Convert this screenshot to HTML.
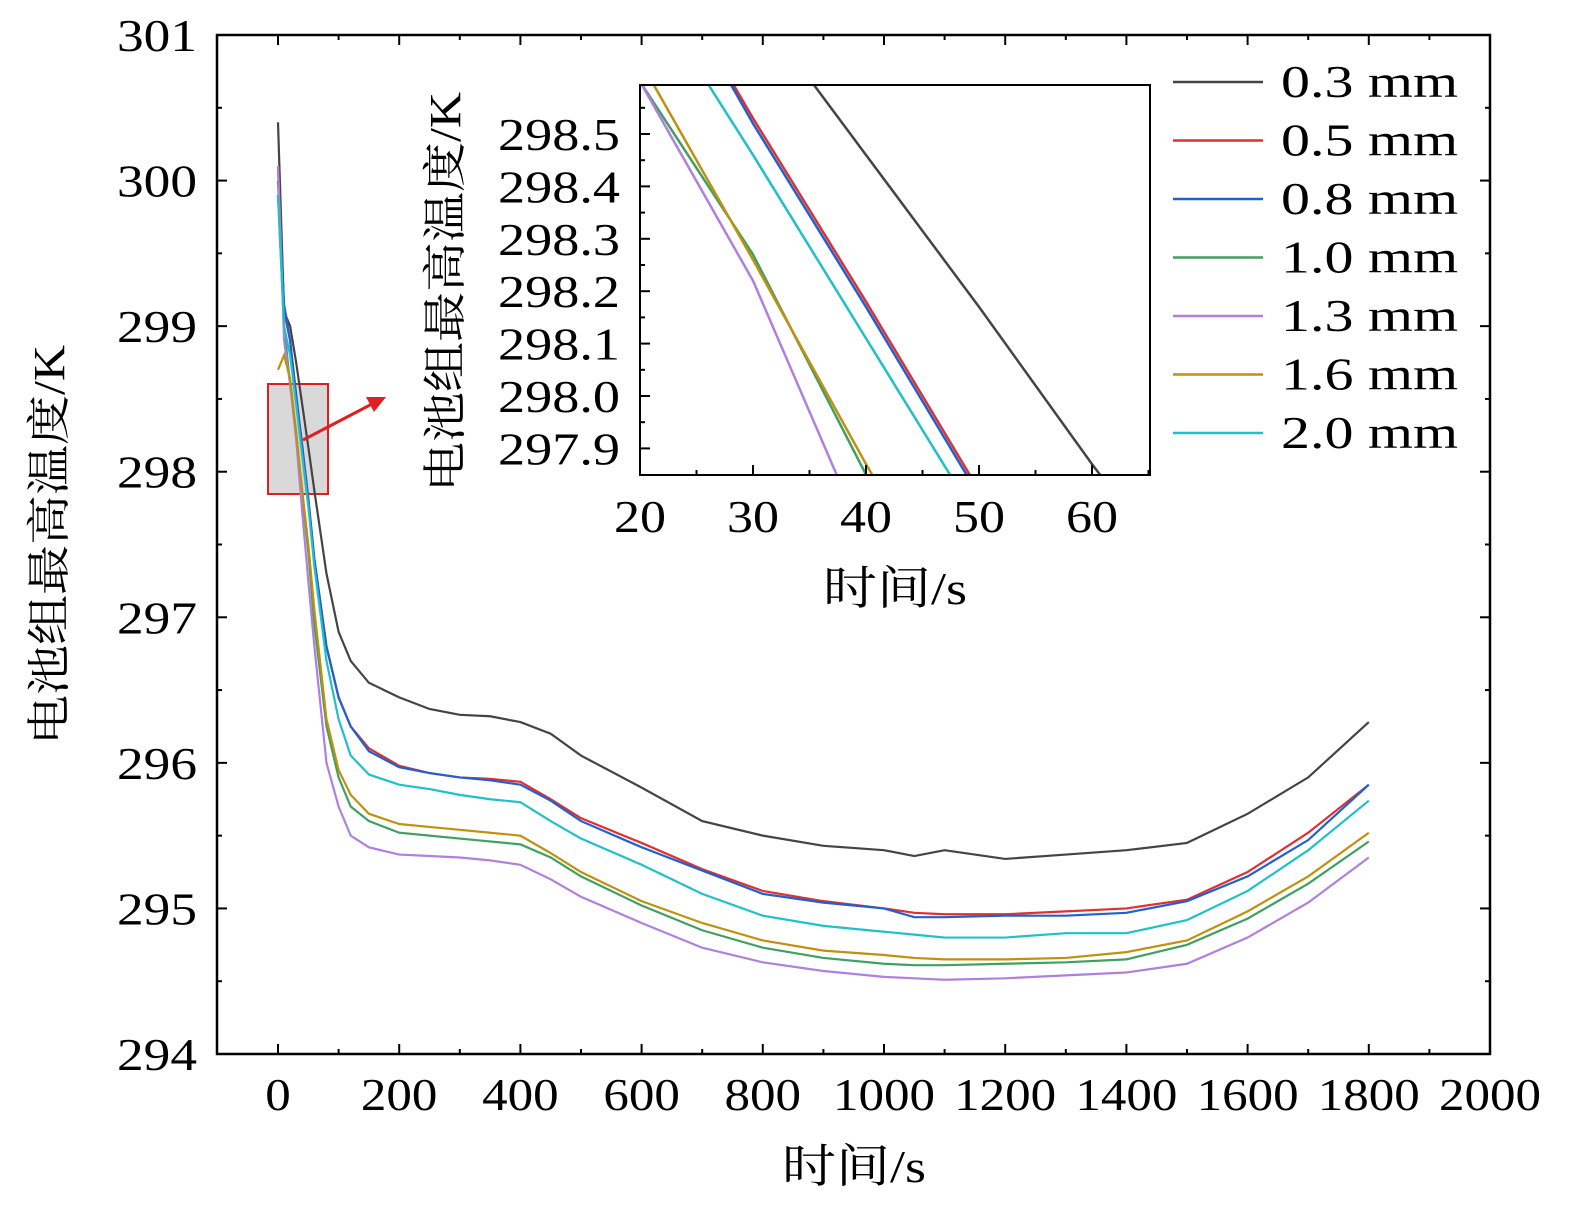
<!DOCTYPE html>
<html><head><meta charset="utf-8">
<style>
html,body{margin:0;padding:0;background:#fff;overflow:hidden;width:1575px;height:1211px;position:relative;}
svg{display:block;position:absolute;left:0;top:0;}
text{font-family:"Liberation Serif","Noto Serif CJK SC",serif;fill:#000;}
</style></head>
<body>
<svg id="chart" width="1575" height="1211" viewBox="0 0 1575 1211" xmlns="http://www.w3.org/2000/svg"></svg>
<script>
const times=[0,10,20,30,40,50,60,80,100,120,150,200,250,300,350,400,450,500,600,700,800,900,1000,1050,1100,1200,1300,1400,1500,1600,1700,1800];
const s03=[300.4,299.1,299.0,298.75,298.46,298.17,297.87,297.3,296.9,296.7,296.55,296.45,296.37,296.33,296.32,296.28,296.2,296.05,295.83,295.6,295.5,295.43,295.4,295.36,295.4,295.34,295.37,295.4,295.45,295.65,295.9,296.28];
const s05=[300.1,299.1,298.9,298.53,298.18,297.82,297.4,296.8,296.45,296.25,296.1,295.98,295.93,295.9,295.89,295.87,295.75,295.62,295.45,295.27,295.12,295.05,295.0,294.97,294.96,294.96,294.98,295.0,295.06,295.25,295.52,295.85];
const s08=[300.0,299.15,298.9,298.52,298.17,297.81,297.4,296.8,296.45,296.25,296.08,295.97,295.93,295.9,295.88,295.85,295.74,295.6,295.42,295.26,295.1,295.04,295.0,294.94,294.94,294.95,294.95,294.97,295.05,295.22,295.47,295.85];
const s10=[299.9,299.0,298.6,298.27,297.85,297.45,296.95,296.25,295.9,295.7,295.6,295.52,295.5,295.48,295.46,295.44,295.35,295.22,295.02,294.85,294.73,294.66,294.62,294.61,294.61,294.62,294.63,294.65,294.75,294.93,295.17,295.46];
const s13=[300.1,298.9,298.6,298.22,297.72,297.25,296.8,296.0,295.7,295.5,295.42,295.37,295.36,295.35,295.33,295.3,295.2,295.08,294.9,294.73,294.63,294.57,294.53,294.52,294.51,294.52,294.54,294.56,294.62,294.8,295.04,295.35];
const s16=[298.7,298.8,298.64,298.26,297.87,297.5,297.05,296.3,295.95,295.78,295.65,295.58,295.56,295.54,295.52,295.5,295.38,295.25,295.05,294.9,294.78,294.71,294.68,294.66,294.65,294.65,294.66,294.7,294.78,294.98,295.22,295.52];
const s20=[299.9,299.0,298.8,298.46,298.11,297.76,297.35,296.7,296.3,296.05,295.92,295.85,295.82,295.78,295.75,295.73,295.6,295.48,295.3,295.1,294.95,294.88,294.84,294.82,294.8,294.8,294.83,294.83,294.92,295.12,295.4,295.74];
const seriesNames=["0.3 mm","0.5 mm","0.8 mm","1.0 mm","1.3 mm","1.6 mm","2.0 mm"];
const seriesColors=["#444444","#e03030","#2060d0","#40a060","#b080e0","#c09010","#20c0c8"];
const seriesData=[s03,s05,s08,s10,s13,s16,s20];
const xTicks=[0,200,400,600,800,1000,1200,1400,1600,1800,2000];
const yTicks=[294,295,296,297,298,299,300,301];
const ixTicks=[20,30,40,50,60];
const iyTicks=[297.9,298.0,298.1,298.2,298.3,298.4,298.5];

const NS="http://www.w3.org/2000/svg";
const svg=document.getElementById('chart');
function mk(tag,attrs,parent){const e=document.createElementNS(NS,tag);for(const k in attrs)e.setAttribute(k,attrs[k]);(parent||svg).appendChild(e);return e;}
function numW(s,d,dot){let w=0;for(const c of s)w+=(c==='.'?dot:d);return w;}
const X=v=>278+(v-0)*(1212/2000);
const Y=v=>1054-(v-294)*(1019/7);
const frame=mk('rect',{x:217,y:35,width:1273,height:1019,fill:'none',stroke:'#000','stroke-width':2.5});


xTicks.forEach(t=>{
  mk('line',{x1:X(t),y1:1054,x2:X(t),y2:1044,stroke:'#000','stroke-width':2});
  mk('line',{x1:X(t),y1:35,x2:X(t),y2:45,stroke:'#000','stroke-width':2});
  if(t<2000){mk('line',{x1:X(t+100),y1:1054,x2:X(t+100),y2:1049,stroke:'#000','stroke-width':2});mk('line',{x1:X(t+100),y1:35,x2:X(t+100),y2:40,stroke:'#000','stroke-width':2});}
  const s=String(t);const w=numW(s,25.5,12);
  const tx=mk('text',{x:X(t)-w/2,y:1110,'font-size':46,textLength:w,lengthAdjust:'spacingAndGlyphs'});
  tx.textContent=s;
  
  
});
yTicks.forEach(t=>{
  mk('line',{x1:217,y1:Y(t),x2:227,y2:Y(t),stroke:'#000','stroke-width':2});
  mk('line',{x1:1490,y1:Y(t),x2:1480,y2:Y(t),stroke:'#000','stroke-width':2});
  if(t<301){mk('line',{x1:217,y1:Y(t+0.5),x2:222,y2:Y(t+0.5),stroke:'#000','stroke-width':2});mk('line',{x1:1490,y1:Y(t+0.5),x2:1485,y2:Y(t+0.5),stroke:'#000','stroke-width':2});}
  const s=String(t);const w=80;
  const tx=mk('text',{x:197-w,y:Y(t)+16,'font-size':46,textLength:w,lengthAdjust:'spacingAndGlyphs'});
  tx.textContent=s;
  
  
});
const xt=mk('text',{x:782,y:1182,'font-size':46,textLength:144,lengthAdjust:'spacingAndGlyphs'});
xt.textContent='时间/s';


const yt=mk('text',{x:0,y:0,'font-size':44,transform:'translate(64 745) rotate(-90)',textLength:400,lengthAdjust:'spacingAndGlyphs'});
yt.textContent='电池组最高温度/K';


const zb=mk('rect',{x:268,y:384,width:60,height:110,fill:'#d9d9d9',stroke:'#e02020','stroke-width':2});


seriesData.forEach((d,i)=>{
  const p=mk('polyline',{points:times.map((t,j)=>X(t)+','+Y(d[j])).join(' '),fill:'none',stroke:seriesColors[i],'stroke-width':2.2});
  
  
});
const ar=mk('line',{x1:303,y1:440,x2:372,y2:404,stroke:'#e02020','stroke-width':3});


mk('polygon',{points:'386,397 366,397 374,412',fill:'#e02020'});
const IX=v=>640+(v-20)*11.3;
const IY=v=>134+(298.5-v)*524;
mk('rect',{x:640,y:85,width:510,height:390,fill:'#fff'});
const cp=mk('clipPath',{id:'ic'});
mk('rect',{x:640,y:85,width:510,height:390},cp);
const ig=mk('g',{'clip-path':'url(#ic)'});


seriesData.forEach((d,i)=>{
  const p=mk('polyline',{points:times.map((t,j)=>IX(t)+','+IY(d[j])).join(' '),fill:'none',stroke:seriesColors[i],'stroke-width':2.5},ig);
  
  
});
const inf=mk('rect',{x:640,y:85,width:510,height:390,fill:'none',stroke:'#000','stroke-width':2});


ixTicks.forEach(t=>{
  mk('line',{x1:IX(t),y1:475,x2:IX(t),y2:465,stroke:'#000','stroke-width':2});
  mk('line',{x1:IX(t+5),y1:475,x2:IX(t+5),y2:470,stroke:'#000','stroke-width':2});
  const w=52;
  const tx=mk('text',{x:IX(t)-w/2,y:532,'font-size':46,textLength:w,lengthAdjust:'spacingAndGlyphs'});
  tx.textContent=t;
  
  
});
iyTicks.forEach(t=>{
  mk('line',{x1:640,y1:IY(t),x2:650,y2:IY(t),stroke:'#000','stroke-width':2});
  mk('line',{x1:640,y1:IY(t+0.05),x2:645,y2:IY(t+0.05),stroke:'#000','stroke-width':2});
  const w=122;
  const tx=mk('text',{x:620-w,y:IY(t)+16,'font-size':46,textLength:w,lengthAdjust:'spacingAndGlyphs'});
  tx.textContent=t.toFixed(1);
  
  
});
const ixt=mk('text',{x:823,y:604,'font-size':46,textLength:144,lengthAdjust:'spacingAndGlyphs'});
ixt.textContent='时间/s';


const iyt=mk('text',{x:0,y:0,'font-size':44,transform:'translate(460 492) rotate(-90)',textLength:400,lengthAdjust:'spacingAndGlyphs'});
iyt.textContent='电池组最高温度/K';


seriesNames.forEach((n,i)=>{
  const y=82+i*58.5;
  const g=mk('g',{});
  
  
  mk('line',{x1:1173,y1:y,x2:1263,y2:y,stroke:seriesColors[i],'stroke-width':2.5},g);
  const tx=mk('text',{x:1281,y:y+15,'font-size':46,textLength:177,lengthAdjust:'spacingAndGlyphs'},g);
  tx.textContent=n;
});
</script>
</body></html>
